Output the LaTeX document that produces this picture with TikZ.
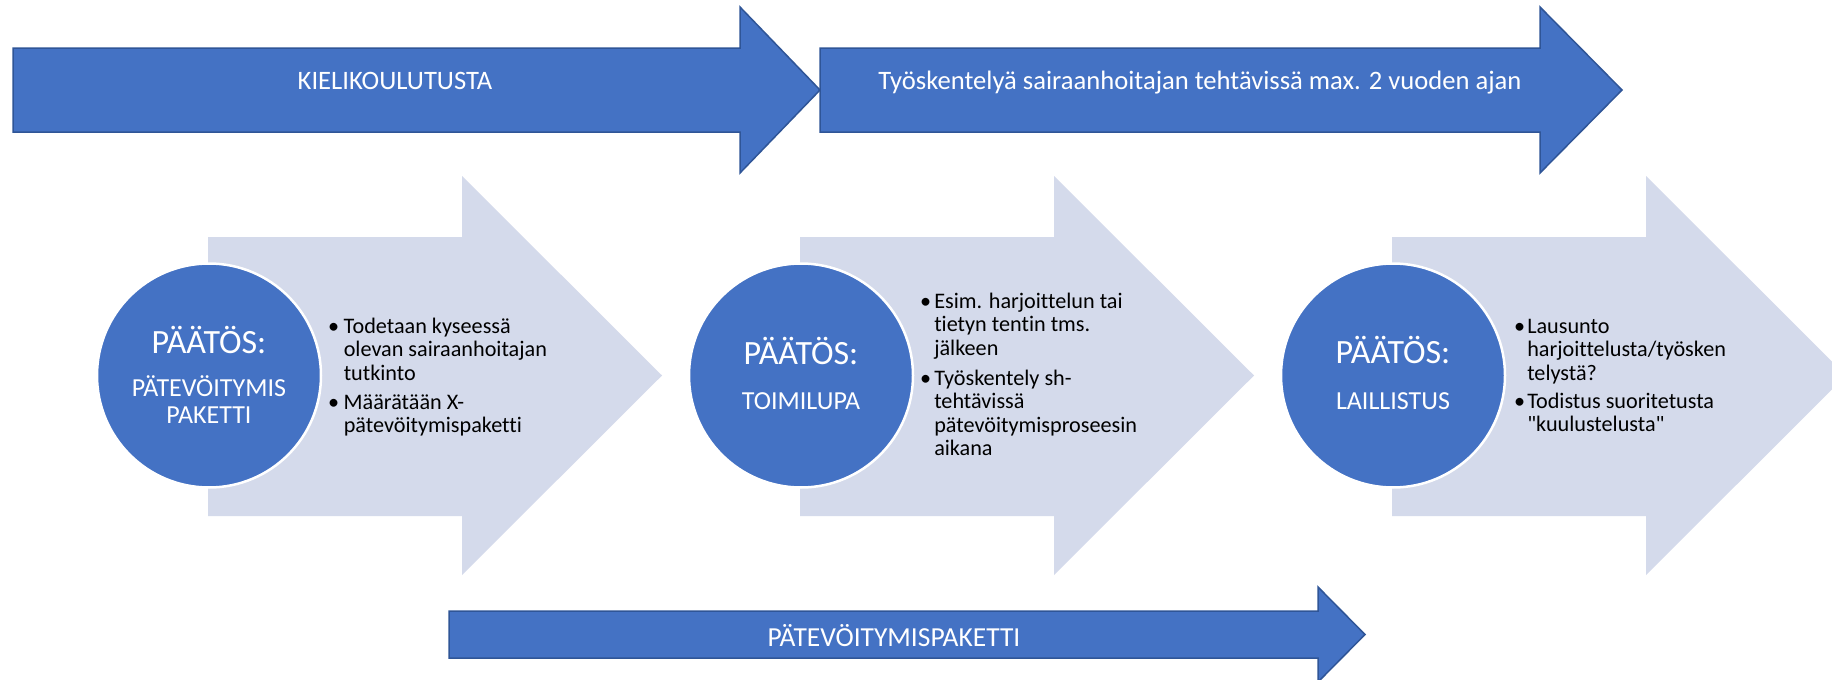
\documentclass[tikz,border=0pt]{standalone}
\usepackage{fontspec}
\setmainfont{Carlito}[Ligatures={TeXOff,CommonOff}]
\definecolor{darkblue}{HTML}{4472C4}
\definecolor{edgeblue}{HTML}{2F5597}
\definecolor{lightarrow}{RGB}{212,218,235}
\tikzset{
  bluearrow/.style={fill=darkblue, draw=edgeblue, line width=1.5pt, line join=miter},
  lightshape/.style={fill=lightarrow},
  circ/.style={circle, fill=darkblue, draw=white, line width=2.5pt, minimum size=224pt, inner sep=0pt},
  arrowlabel/.style={text=white, font=\fontsize{26.6}{31}\selectfont, inner sep=0pt, anchor=base},
  bottomlabel/.style={text=white, font=\fontsize{27.5}{33}\selectfont, inner sep=0pt, anchor=base},
  bigtitle/.style={text=white, font=\fontsize{34}{40}\selectfont, inner sep=0pt, anchor=base},
  subtitle/.style={text=white, font=\fontsize{26}{29}\selectfont, inner sep=0pt, anchor=base},
  bodytext/.style={text=black, font=\fontsize{22.2}{23.5}\selectfont, inner sep=0pt, anchor=base west},
}
\begin{document}
\begin{tikzpicture}[x=1pt,y=-1pt]
\useasboundingbox (0,0) rectangle (1832,680);
\clip (0,0) rectangle (1832,680);
\fill[white] (0,0) rectangle (1832,680);

% light process arrows
\foreach \dx in {0,592} {
  \fill[lightshape] (208+\dx,237) -- (462+\dx,237) -- (462+\dx,176) -- (662+\dx,375.5)
    -- (462+\dx,575) -- (462+\dx,516) -- (208+\dx,516) -- cycle;
}
\fill[lightshape] (1392,237) -- (1646,237) -- (1646,176) -- (1846,375.5)
    -- (1646,575) -- (1646,516) -- (1392,516) -- cycle;

% circles
\node[circ] (c1) at (209,375.5) {};
\node[circ] (c2) at (801,375.5) {};
\node[circ] (c3) at (1393,375.5) {};

\node[bigtitle] (p1) at (209,353) {PÄÄTÖS:};
\node[subtitle] (s1a) at (209,396) {PÄTEVÖITYMIS};
\node[subtitle] (s1b) at (209,423) {PAKETTI};

\node[bigtitle] (p2) at (801,364) {PÄÄTÖS:};
\node[subtitle] (s2) at (801,409) {TOIMILUPA};

\node[bigtitle] (p3) at (1393,363) {PÄÄTÖS:};
\node[subtitle] (s3) at (1393,409) {LAILLISTUS};

% bullet texts
\node[bodytext] (b1a) at (328,333) {\begin{tabular}[t]{@{}l@{\hspace{4.5pt}}l@{}}•&Todetaan kyseessä\\ &olevan sairaanhoitajan\\ &tutkinto\end{tabular}};
\node[bodytext] (b1b) at (328,409) {\begin{tabular}[t]{@{}l@{\hspace{4.5pt}}l@{}}•&Määrätään X-\\ &pätevöitymispaketti\end{tabular}};

\node[bodytext] (b2a) at (920,308) {\begin{tabular}[t]{@{}l@{\hspace{3pt}}l@{}}•&Esim. harjoittelun tai\\ &tietyn tentin tms.\\ &jälkeen\end{tabular}};
\node[bodytext] (b2b) at (920,385) {\begin{tabular}[t]{@{}l@{\hspace{3pt}}l@{}}•&Työskentely sh-\\ &tehtävissä\\ &pätevöitymisproseesin\\ &aikana\end{tabular}};

\node[bodytext] (b3a) at (1514,333) {\begin{tabular}[t]{@{}l@{\hspace{2pt}}l@{}}•&Lausunto\\ &harjoittelusta/työsken\\ &telystä?\end{tabular}};
\node[bodytext] (b3b) at (1514,408) {\begin{tabular}[t]{@{}l@{\hspace{2pt}}l@{}}•&Todistus suoritetusta\\ &"kuulustelusta"\end{tabular}};

% top arrows
\draw[bluearrow] (13,48) -- (740,48) -- (740,7) -- (820,90) -- (740,173) -- (740,132) -- (13,132) -- cycle;
\draw[bluearrow] (820,48) -- (1540,48) -- (1540,7) -- (1622,90) -- (1540,173) -- (1540,132) -- (820,132) -- cycle;
\node[arrowlabel] (tA) at (395,89) {KIELIKOULUTUSTA};
\node[arrowlabel] (tB) at (1200,89) {Työskentelyä sairaanhoitajan tehtävissä max. 2 vuoden ajan};

% bottom arrow
\draw[bluearrow] (449,611) -- (1318,611) -- (1318,587) -- (1365,634.5) -- (1318,682) -- (1318,658) -- (449,658) -- cycle;
\node[bottomlabel] (tC) at (894,646) {PÄTEVÖITYMISPAKETTI};
\end{tikzpicture}
\end{document}
